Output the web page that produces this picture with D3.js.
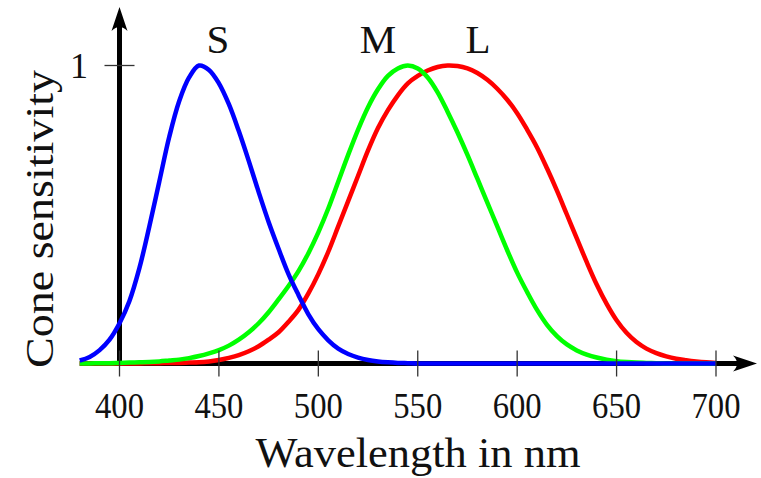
<!DOCTYPE html>
<html>
<head>
<meta charset="utf-8">
<script src="https://cdn.jsdelivr.net/npm/d3@7"></script>
<style>
  html, body { margin: 0; padding: 0; background: #fff; }
  svg { display: block; }
</style>
</head>
<body>
<svg id="chart" width="761" height="478"></svg>
<script>
// Cone sensitivity curves (normalised).
const wavelengths = [380, 385, 390, 395, 400, 405, 410, 415, 420, 425, 430, 435, 440, 445, 450, 455, 460, 465, 470, 475, 480, 485, 490, 495, 500, 505, 510, 515, 520, 525, 530, 535, 540, 545, 550, 555, 560, 565, 570, 575, 580, 585, 590, 595, 600, 605, 610, 615, 620, 625, 630, 635, 640, 645, 650, 655, 660, 665, 670, 675, 680, 685, 690, 695, 700];

const sCone = [0.01, 0.022, 0.045, 0.08, 0.135, 0.21, 0.32, 0.46, 0.61, 0.76, 0.88, 0.96, 1.0, 0.985, 0.94, 0.87, 0.78, 0.68, 0.575, 0.475, 0.385, 0.30, 0.23, 0.165, 0.115, 0.078, 0.05, 0.032, 0.02, 0.012, 0.007, 0.004, 0.002, 0.001, 0, 0, 0, 0, 0, 0, 0, 0, 0, 0, 0, 0, 0, 0, 0, 0, 0, 0, 0, 0, 0, 0, 0, 0, 0, 0, 0, 0, 0, 0, 0];

const mCone = [0, 0, 0.001, 0.001, 0.002, 0.003, 0.004, 0.005, 0.007, 0.01, 0.013, 0.018, 0.025, 0.034, 0.045, 0.06, 0.08, 0.105, 0.135, 0.172, 0.215, 0.26, 0.31, 0.37, 0.44, 0.52, 0.61, 0.70, 0.785, 0.86, 0.92, 0.965, 0.99, 1.0, 0.99, 0.96, 0.91, 0.845, 0.775, 0.70, 0.62, 0.54, 0.46, 0.38, 0.305, 0.24, 0.18, 0.13, 0.092, 0.064, 0.044, 0.03, 0.02, 0.013, 0.008, 0.005, 0.003, 0.002, 0.001, 0, 0, 0, 0, 0, 0];

const lCone = [0, 0, 0, 0, 0, 0, 0, 0.001, 0.001, 0.002, 0.002, 0.003, 0.004, 0.007, 0.012, 0.019, 0.028, 0.041, 0.058, 0.08, 0.105, 0.14, 0.18, 0.235, 0.30, 0.375, 0.46, 0.545, 0.63, 0.715, 0.79, 0.85, 0.90, 0.94, 0.965, 0.983, 0.995, 1.0, 0.998, 0.99, 0.975, 0.952, 0.922, 0.885, 0.84, 0.785, 0.725, 0.655, 0.58, 0.50, 0.42, 0.34, 0.265, 0.20, 0.145, 0.103, 0.072, 0.05, 0.035, 0.024, 0.016, 0.011, 0.007, 0.004, 0.002];

const seriesNames = ["L", "M", "S"];
const seriesColors = ["#ff0000", "#00ff00", "#0000ff"];
const seriesValues = [lCone, mCone, sCone];

const xTicks = [400, 450, 500, 550, 600, 650, 700];
const yTicks = [1];

const svg = d3.select("#chart")
  .attr("font-family", "'Liberation Serif', 'Times New Roman', serif");

const x = d3.scaleLinear().domain([400, 700]).range([119.5, 716]);
const y = d3.scaleLinear().domain([0, 1]).range([363.5, 65.5]);

const axisW = 5;
const x0 = x(380);
const yBase = y(0);

// ---- axes (under the curves) ----
const axes = svg.append("g");
axes.append("line")
  .attr("x1", x0).attr("x2", 740)
  .attr("y1", yBase).attr("y2", yBase)
  .attr("stroke", "#000").attr("stroke-width", axisW);
axes.append("path")
  .attr("d", `M757,${yBase} L733,${yBase - 8} Q741,${yBase} 733,${yBase + 8} Z`)
  .attr("fill", "#000");

axes.append("line")
  .attr("x1", x(400)).attr("x2", x(400))
  .attr("y1", yBase).attr("y2", 24)
  .attr("stroke", "#000").attr("stroke-width", axisW);
axes.append("path")
  .attr("d", `M${x(400)},7 L${x(400) - 8},31 Q${x(400)},23 ${x(400) + 8},31 Z`)
  .attr("fill", "#000");

// ---- curves ----
const line = d3.line()
  .x((d) => x(d[0]))
  .y((d) => y(d[1]))
  .curve(d3.curveCatmullRom.alpha(0.5));

seriesValues.forEach((vals, i) => {
  svg.append("path")
    .datum(wavelengths.map((w, j) => [w, vals[j]]))
    .attr("fill", "none")
    .attr("stroke", seriesColors[i])
    .attr("stroke-width", 4.5)
    .attr("stroke-linejoin", "round")
    .attr("d", line);
});

// ---- ticks on top ----
svg.append("g")
  .selectAll("line")
  .data(xTicks)
  .join("line")
  .attr("x1", (d) => x(d)).attr("x2", (d) => x(d))
  .attr("y1", yBase - 13).attr("y2", yBase + 13)
  .attr("stroke", "#333").attr("stroke-width", 1.3);

svg.append("g")
  .selectAll("text")
  .data(xTicks)
  .join("text")
  .attr("x", (d) => x(d))
  .attr("y", 418)
  .attr("text-anchor", "middle")
  .attr("font-size", 36)
  .attr("fill", "#111")
  .attr("textLength", 49)
  .attr("lengthAdjust", "spacingAndGlyphs")
  .text((d) => d);

svg.append("g")
  .selectAll("line")
  .data(yTicks)
  .join("line")
  .attr("x1", x(400) - 15).attr("x2", x(400) + 15)
  .attr("y1", (d) => y(d)).attr("y2", (d) => y(d))
  .attr("stroke", "#333").attr("stroke-width", 1.3);

svg.append("g")
  .selectAll("text")
  .data(yTicks)
  .join("text")
  .attr("x", 79)
  .attr("y", (d) => y(d) + 12)
  .attr("text-anchor", "middle")
  .attr("font-size", 36)
  .attr("fill", "#111")
  .text((d) => d);

// ---- series labels ----
const labelX = [478, 378, 218];
svg.append("g")
  .selectAll("text")
  .data(seriesNames)
  .join("text")
  .attr("x", (d, i) => labelX[i])
  .attr("y", 53)
  .attr("text-anchor", "middle")
  .attr("font-size", 41)
  .attr("fill", "#111")
  .text((d) => d);

// ---- axis titles ----
svg.append("text")
  .attr("x", 418)
  .attr("y", 467)
  .attr("text-anchor", "middle")
  .attr("font-size", 42)
  .attr("fill", "#111")
  .attr("textLength", 325)
  .attr("lengthAdjust", "spacingAndGlyphs")
  .text("Wavelength in nm");

svg.append("text")
  .attr("transform", "translate(53,219) rotate(-90)")
  .attr("text-anchor", "middle")
  .attr("font-size", 40)
  .attr("fill", "#111")
  .attr("textLength", 298)
  .attr("lengthAdjust", "spacingAndGlyphs")
  .text("Cone sensitivity");
</script>
</body>
</html>
